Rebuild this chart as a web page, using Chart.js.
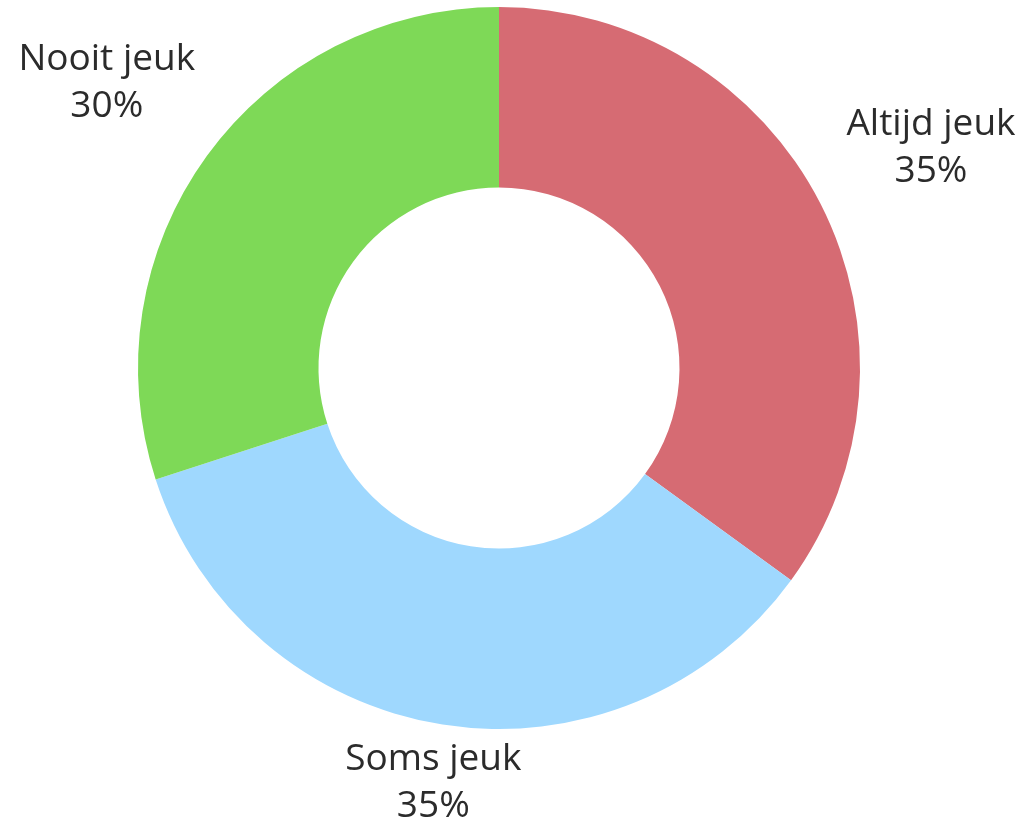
<!DOCTYPE html>
<html>
<head>
<meta charset="utf-8">
<script src="https://cdn.jsdelivr.net/npm/chart.js@4"></script>
<style>
  body { margin: 0; background: #fff; }
  canvas { display: block; }
</style>
</head>
<body>
<canvas id="chart" width="1023" height="826"></canvas>
<script>
// categorieen en percentages
const categories = ['Altijd jeuk', 'Soms jeuk', 'Nooit jeuk'];
const percentages = [35, 35, 30];
const sliceColors = ['#d66b73', '#9fd8fe', '#7ed957'];

// labels buiten de ring, elk label op zijn eigen afstand (factor van de straal)
const outsideLabels = {
  id: 'outsideLabels',
  afterDatasetsDraw(chart, args, opts) {
    const ctx = chart.ctx;
    const meta = chart.getDatasetMeta(0);
    ctx.save();
    ctx.font = opts.font;
    ctx.fillStyle = opts.color;
    ctx.textAlign = 'center';
    ctx.textBaseline = 'middle';
    meta.data.forEach((arc, i) => {
      const mid = (arc.startAngle + arc.endAngle) / 2;
      const r = arc.outerRadius * opts.dist[i];
      const x = arc.x + Math.cos(mid) * r;
      const y = arc.y + Math.sin(mid) * r;
      ctx.fillText(categories[i], x, y - opts.lineHeight / 2);
      ctx.fillText(percentages[i] + '%', x, y + opts.lineHeight / 2);
    });
    ctx.restore();
  }
};

const ctx = document.getElementById('chart').getContext('2d');
const myChart = new Chart(ctx, {
  type: 'doughnut',
  data: {
    labels: categories,
    datasets: [{
      data: percentages,
      backgroundColor: sliceColors,
      borderWidth: 0,
      hoverOffset: 0
    }]
  },
  options: {
    responsive: false,
    animation: false,
    cutout: '50%',
    layout: { padding: { top: 7, bottom: 97, left: 138, right: 163 } },
    plugins: {
      legend: { display: false },
      tooltip: { enabled: false },
      outsideLabels: {
        font: '37px "Open Sans"',
        color: '#2b2b2b',
        lineHeight: 47,
        dist: [1.343, 1.163, 1.343]
      }
    }
  },
  plugins: [outsideLabels]
});
</script>
</body>
</html>
